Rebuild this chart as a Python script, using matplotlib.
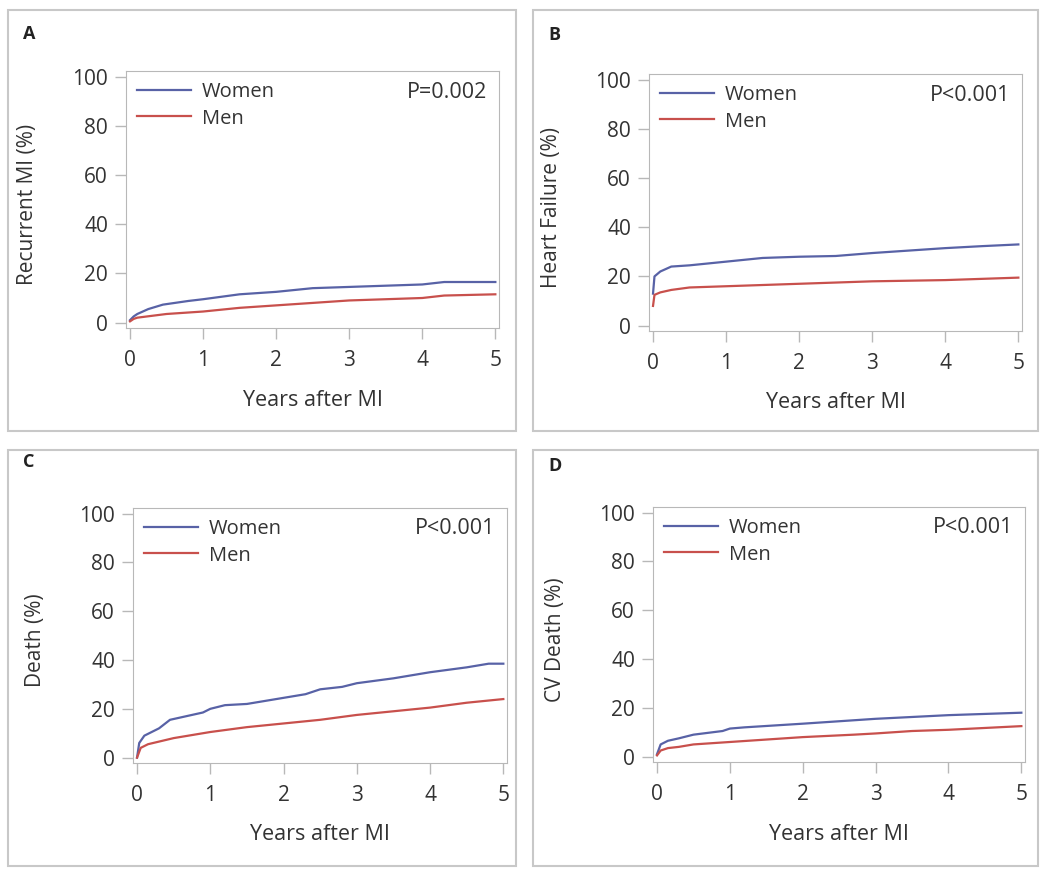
import matplotlib
matplotlib.use("Agg")
import matplotlib.pyplot as plt
from matplotlib.patches import Rectangle

plt.rcParams['font.family'] = ['Open Sans', 'DejaVu Sans']

# panel A: recurrent MI
a_women_x = [0, 0.05, 0.1, 0.25, 0.45, 0.8, 1.0, 1.5, 2.0, 2.5, 3.0, 3.5, 4.0, 4.3, 5.0]
a_women_y = [1, 2.5, 3.5, 5.5, 7.3, 8.8, 9.5, 11.5, 12.5, 14.0, 14.5, 15.0, 15.5, 16.5, 16.5]
a_men_x = [0, 0.05, 0.1, 0.5, 1.0, 1.5, 2.0, 2.5, 3.0, 3.5, 4.0, 4.3, 5.0]
a_men_y = [0.5, 1.5, 2.0, 3.5, 4.5, 6.0, 7.0, 8.0, 9.0, 9.5, 10.0, 11.0, 11.5]

# panel B: heart failure
b_women_x = [0, 0.02, 0.1, 0.25, 0.5, 1.0, 1.5, 2.0, 2.5, 3.0, 3.5, 4.0, 4.5, 5.0]
b_women_y = [13, 20, 22, 24, 24.5, 26, 27.5, 28, 28.3, 29.5, 30.5, 31.5, 32.3, 33]
b_men_x = [0, 0.02, 0.1, 0.25, 0.5, 1.0, 2.0, 3.0, 4.0, 5.0]
b_men_y = [8, 12.5, 13.5, 14.5, 15.5, 16, 17, 18, 18.5, 19.5]

# panel C: death
c_women_x = [0, 0.03, 0.1, 0.2, 0.3, 0.45, 0.6, 0.9, 1.0, 1.2, 1.5, 2.0, 2.3, 2.5,
             2.8, 3.0, 3.5, 4.0, 4.5, 4.8, 5.0]
c_women_y = [0, 6, 9, 10.5, 12, 15.5, 16.5, 18.5, 20, 21.5, 22, 24.5, 26, 28,
             29, 30.5, 32.5, 35, 37, 38.5, 38.5]
c_men_x = [0, 0.05, 0.15, 0.5, 1.0, 1.5, 2.0, 2.5, 3.0, 3.5, 4.0, 4.5, 5.0]
c_men_y = [0, 4, 5.5, 8, 10.5, 12.5, 14, 15.5, 17.5, 19, 20.5, 22.5, 24]

# panel D: CV death
d_women_x = [0, 0.05, 0.15, 0.3, 0.5, 0.9, 1.0, 1.2, 2.0, 3.0, 4.0, 4.5, 5.0]
d_women_y = [1, 5, 6.5, 7.5, 9, 10.5, 11.5, 12, 13.5, 15.5, 17, 17.5, 18]
d_men_x = [0, 0.05, 0.15, 0.3, 0.5, 1.0, 1.5, 2.0, 2.7, 3.0, 3.5, 4.0, 5.0]
d_men_y = [0.5, 2.5, 3.5, 4, 5, 6, 7, 8, 9, 9.5, 10.5, 11, 12.5]

panels = [
    ("A", "Recurrent MI (%)", "P=0.002", a_women_x, a_women_y, a_men_x, a_men_y),
    ("B", "Heart Failure (%)", "P<0.001", b_women_x, b_women_y, b_men_x, b_men_y),
    ("C", "Death (%)", "P<0.001", c_women_x, c_women_y, c_men_x, c_men_y),
    ("D", "CV Death (%)", "P<0.001", d_women_x, d_women_y, d_men_x, d_men_y),
]

W, H = 1050, 874
# pixel boxes: (axes left, top, right, bottom), (frame left, top, right, bottom), label pos
ax_px = [(126, 71, 499, 328), (649, 74, 1022, 331), (133, 508, 507, 763), (653, 507, 1025, 762)]
frame_px = [(8, 10, 516, 431), (533, 10, 1038, 431), (8, 450, 516, 866), (533, 450, 1038, 866)]
label_px = [(23, 34), (548, 35), (23, 462), (548, 466)]

women_color = "#5862a6"
men_color = "#c8504c"
txt = "#333333"
spine = "#b8b8b8"

fig = plt.figure(figsize=(W / 100, H / 100), dpi=100)

for i, (tag, ylab, ptxt, wx, wy, mx, my) in enumerate(panels):
    l, t, r, b = ax_px[i]
    aw, ah = r - l, b - t
    ax = fig.add_axes([l / W, 1 - b / H, aw / W, ah / H])
    ax.plot(wx, wy, color=women_color, lw=1.6, label="Women")
    ax.plot(mx, my, color=men_color, lw=1.6, label="Men")
    ax.set_xlim(-0.055, 5.05)
    ax.set_ylim(-2.2, 102.3)
    ax.set_xticks(range(6))
    ax.set_yticks(range(0, 101, 20))
    ax.tick_params(colors=spine, labelcolor=txt, labelsize=15, length=8, width=1)
    ax.tick_params(axis="x", pad=8)
    ax.tick_params(axis="y", pad=5)
    for s in ax.spines.values():
        s.set_color(spine)
    ax.set_ylabel(ylab, fontsize=15, color=txt, va="center")
    ax.yaxis.set_label_coords(-98 / aw, 0.48)
    ax.set_xlabel("Years after MI", fontsize=15.5, color=txt, va="center")
    ax.xaxis.set_label_coords(0.5, -72 / ah)
    ax.legend(loc="upper left", frameon=False, fontsize=14.5, handlelength=2.7,
              handletextpad=0.5, labelspacing=0.32, borderaxespad=0.25,
              borderpad=0.3, labelcolor=txt)
    ax.text(0.968, 0.918, ptxt, transform=ax.transAxes, ha="right", va="center",
            fontsize=15.5, color=txt)

    fl, ft, fr, fb = frame_px[i]
    fig.patches.append(Rectangle((fl / W, 1 - fb / H), (fr - fl) / W, (fb - ft) / H,
                                 transform=fig.transFigure, fill=False,
                                 edgecolor="#c8c8c8", lw=1.5))
    lx, ly = label_px[i]
    fig.text(lx / W, 1 - ly / H, tag, fontsize=13, fontweight="bold",
             color="#222222", ha="left", va="center")

fig.savefig("out.png", dpi=100)
